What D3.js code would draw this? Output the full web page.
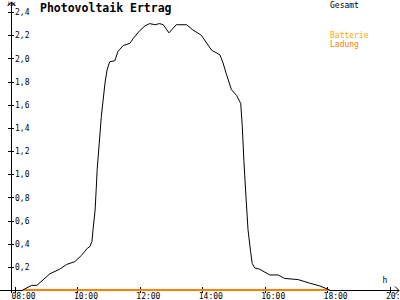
<!DOCTYPE html>
<html>
<head>
<meta charset="utf-8">
<script src="https://cdn.jsdelivr.net/npm/d3@7"></script>
<style>
  body { margin: 0; background: #fff; }
  text { font-family: "DejaVu Sans Mono", monospace; }
</style>
</head>
<body>
<div id="chart"></div>
<script>
// PV output (kW) over the day
var times = ["08:15","08:32","08:42","09:07","09:26","09:39","09:55","10:08","10:19","10:24",
  "10:28","10:30","10:34","10:36","10:38","10:46","10:53","10:57","11:02","11:12",
  "11:18","11:28","11:41","11:47","12:00","12:10","12:19","12:29","12:38","12:45",
  "12:56","13:10","13:30","13:42","13:58","14:18","14:34","14:40","14:46","14:56",
  "15:06","15:14","15:17","15:20","15:24","15:28","15:33","15:36","15:41","15:50",
  "16:10","16:26","16:38","17:04","17:26","17:46","18:05"];
var gesamt = [0, 0.04, 0.04, 0.14, 0.18, 0.22, 0.245, 0.30, 0.36, 0.375,
  0.42, 0.52, 0.69, 0.86, 1.04, 1.50, 1.785, 1.90, 1.97, 1.98,
  2.06, 2.11, 2.13, 2.17, 2.24, 2.28, 2.30, 2.29, 2.30, 2.29,
  2.22, 2.29, 2.29, 2.245, 2.20, 2.07, 2.03, 1.96, 1.87, 1.73,
  1.68, 1.61, 1.41, 1.12, 0.81, 0.52, 0.33, 0.23, 0.19, 0.18,
  0.13, 0.13, 0.10, 0.09, 0.06, 0.035, 0];

// battery charge stays at zero all day
var batteryTimes = ["08:15", "18:05"];
var battery = [0, 0];

var xTicks = [8, 10, 12, 14, 16, 18, 20];
var xTickLabels = ["08:00", "10:00", "12:00", "14:00", "16:00", "18:00", "20:00"];
var yTicks = [0.2, 0.4, 0.6, 0.8, 1.0, 1.2, 1.4, 1.6, 1.8, 2.0, 2.2, 2.4];
var yTickLabels = ["0,2", "0,4", "0,6", "0,8", "1,0", "1,2", "1,4", "1,6", "1,8", "2,0", "2,2", "2,4"];

var width = 400, height = 300;

function hours(s) {
  var p = s.split(":");
  return +p[0] + p[1] / 60;
}

var svg = d3.select("#chart").append("svg")
  .attr("width", width)
  .attr("height", height);

var x = d3.scaleLinear().domain([8, 20]).range([15, 389.5]);
var y = d3.scaleLinear().domain([0, 2.4]).range([290, 12]);

// x axis
var xAxis = svg.append("g")
  .attr("transform", "translate(0," + y(0) + ")")
  .call(d3.axisBottom(x).tickValues(xTicks).tickFormat((d, i) => xTickLabels[i]));
xAxis.select(".domain").remove();
xAxis.selectAll(".tick line").attr("y1", -3).attr("y2", 3).attr("shape-rendering", "crispEdges");
xAxis.selectAll(".tick text")
  .attr("y", 9).attr("dy", 0).attr("dx", -4)
  .attr("text-anchor", "start")
  .style("font-size", "8px");
xAxis.append("line")
  .attr("x1", 0).attr("x2", 399).attr("y1", 0.5).attr("y2", 0.5)
  .attr("stroke", "#000").attr("shape-rendering", "crispEdges");
xAxis.append("path")
  .attr("d", "M395,-3.5L399,0.5L395,4.5")
  .attr("fill", "none").attr("stroke", "#000");
xAxis.append("text")
  .attr("x", 385).attr("y", -7)
  .attr("fill", "#000")
  .style("font-size", "8px")
  .text("h");

// y axis
var yAxis = svg.append("g")
  .attr("transform", "translate(11,0)")
  .call(d3.axisLeft(y).tickValues(yTicks).tickFormat((d, i) => yTickLabels[i]));
yAxis.select(".domain").remove();
yAxis.selectAll(".tick line").attr("x1", -3).attr("x2", 3).attr("shape-rendering", "crispEdges");
yAxis.selectAll(".tick text")
  .attr("x", 4).attr("dy", "0.35em")
  .attr("text-anchor", "start")
  .style("font-size", "8px");
yAxis.append("line")
  .attr("x1", 0.5).attr("x2", 0.5).attr("y1", 2).attr("y2", 293)
  .attr("stroke", "#000").attr("shape-rendering", "crispEdges");
yAxis.append("path")
  .attr("d", "M-3.5,6L0.5,2L4.5,6")
  .attr("fill", "none").attr("stroke", "#000");
yAxis.append("text")
  .attr("x", 4).attr("y", 6)
  .attr("fill", "#000")
  .style("font-size", "6px")
  .text("kW");

// lines
var line = d3.line()
  .x(d => x(hours(d[0])))
  .y(d => y(d[1]));

svg.append("path")
  .datum(batteryTimes.map((t, i) => [t, battery[i]]))
  .attr("d", line)
  .attr("fill", "none")
  .attr("stroke", "#ff8000")
  .attr("stroke-width", 2);

svg.append("path")
  .datum(times.map((t, i) => [t, gesamt[i]]))
  .attr("d", line)
  .attr("fill", "none")
  .attr("stroke", "#000")
  .attr("stroke-width", 1);

// title and legend
svg.append("text")
  .attr("x", 40).attr("y", 12)
  .style("font-size", "11.5px")
  .style("font-weight", "bold")
  .text("Photovoltaik Ertrag");

svg.append("text")
  .attr("x", 330).attr("y", 8)
  .style("font-size", "8px")
  .attr("fill", "#000")
  .text("Gesamt");

svg.append("text")
  .attr("x", 330).attr("y", 38)
  .style("font-size", "8px")
  .attr("fill", "#ffa800")
  .text("Batterie");

svg.append("text")
  .attr("x", 330).attr("y", 46.5)
  .style("font-size", "8px")
  .attr("fill", "#ff8000")
  .text("Ladung");
</script>
</body>
</html>
